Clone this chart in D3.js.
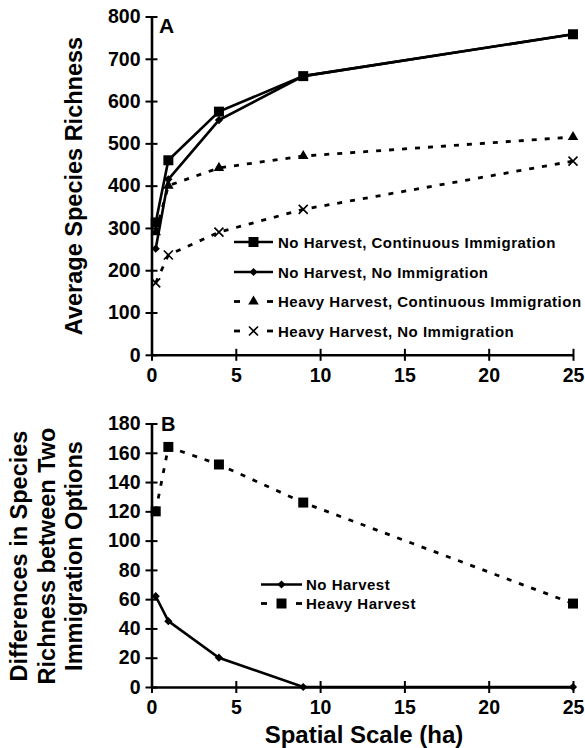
<!DOCTYPE html>
<html>
<head>
<meta charset="utf-8">
<script src="https://cdn.jsdelivr.net/npm/d3@7"></script>
<style>
  body { margin: 0; background: #fff; }
  text { font-family: "Liberation Sans", Arial, sans-serif; font-weight: bold; fill: #000; }
</style>
</head>
<body>
<div id="chart"></div>
<script>
// spatial scale (ha)
const scales = [0.25, 1, 4, 9, 25];

// panel A: average species richness
const nhCont = [313, 460, 575, 659, 758];
const nhNone = [251, 415, 555, 659, 758];
const hhCont = [290, 400, 442, 470, 515];
const hhNone = [170, 236, 290, 344, 458];

// panel B: difference between the two immigration options
const diffNoHarvest = [62, 45, 20, 0, 0];
const diffHeavy = [120, 164, 152, 126, 57];

const xTicks = [0, 5, 10, 15, 20, 25];
const yTicksA = d3.range(0, 801, 100);
const yTicksB = d3.range(0, 181, 20);

const width = 585, height = 748;
const svg = d3.select('#chart').append('svg')
    .attr('width', width)
    .attr('height', height);

const x = d3.scaleLinear().domain([0, 25]).range([151.5, 573]);
const yA = d3.scaleLinear().domain([0, 800]).range([354.8, 16.5]);
const yB = d3.scaleLinear().domain([0, 180]).range([687, 423.5]);

const dash = '5,8';

const shapes = {
    square: d3.symbol(d3.symbolSquare, 100)(),
    diamond: d3.symbol(d3.symbolSquare, 34)(),
    triangle: d3.symbol(d3.symbolTriangle, 48)(),
    cross: 'M-4.5,-4.5L4.5,4.5M-4.5,4.5L4.5,-4.5'
};

function drawMarker(g, shape, cx, cy) {
    const p = g.append('path')
        .attr('d', shapes[shape])
        .attr('transform', `translate(${cx},${cy})` + (shape === 'diamond' ? ' rotate(45)' : ''));
    if (shape === 'cross') p.attr('fill', 'none').attr('stroke', '#000').attr('stroke-width', 1.6);
    else p.attr('fill', '#000');
}

function drawAxes(y, yTicks) {
    const gx = svg.append('g')
        .attr('transform', `translate(0,${y(0)})`)
        .call(d3.axisBottom(x).tickValues(xTicks).tickSize(0).tickSizeOuter(0).tickPadding(13));
    gx.selectAll('.tick line').attr('y1', -6).attr('y2', 6);

    const gy = svg.append('g')
        .attr('transform', `translate(${x(0)},0)`)
        .call(d3.axisLeft(y).tickValues(yTicks).tickSize(0).tickSizeOuter(0).tickPadding(11));
    gy.selectAll('.tick line').attr('x1', -6).attr('x2', 6);

    [gx, gy].forEach(g => {
        g.select('.domain').attr('stroke', '#000').attr('stroke-width', 2.6);
        g.selectAll('.tick line').attr('stroke', '#000').attr('stroke-width', 2);
        g.selectAll('text').attr('font-size', 19.5).attr('fill', '#000')
            .attr('font-family', '"Liberation Sans", Arial, sans-serif').attr('font-weight', 'bold');
    });
    gx.selectAll('text').attr('dy', '0.71em');
}

function drawSeries(y, values, shape, dashed) {
    const g = svg.append('g');
    const line = d3.line().x((d, i) => x(scales[i])).y(d => y(d));
    g.append('path')
        .datum(values)
        .attr('d', line)
        .attr('fill', 'none')
        .attr('stroke', '#000')
        .attr('stroke-width', dashed ? 2.8 : 2.6)
        .attr('stroke-dasharray', dashed ? dash : null);
    values.forEach((v, i) => drawMarker(g, shape, x(scales[i]), y(v)));
}

function drawLegend(items, x0, x1, tx, rows) {
    items.forEach((it, i) => {
        const cy = rows[i];
        const g = svg.append('g');
        const mx = (x0 + x1) / 2;
        if (it.dashed) {
            g.append('line').attr('x1', x0).attr('x2', x0 + 6).attr('y1', cy).attr('y2', cy)
                .attr('stroke', '#000').attr('stroke-width', 2.8);
            g.append('line').attr('x1', x1 - 6).attr('x2', x1).attr('y1', cy).attr('y2', cy)
                .attr('stroke', '#000').attr('stroke-width', 2.8);
        } else {
            g.append('line').attr('x1', x0).attr('x2', x1).attr('y1', cy).attr('y2', cy)
                .attr('stroke', '#000').attr('stroke-width', 2.6);
        }
        drawMarker(g, it.shape, mx, cy);
        g.append('text').attr('x', tx).attr('y', cy + 5.5)
            .attr('font-size', 15).attr('letter-spacing', 0.5).text(it.label);
    });
}

// ---- panel A ----
drawAxes(yA, yTicksA);
drawSeries(yA, hhNone, 'cross', true);
drawSeries(yA, hhCont, 'triangle', true);
drawSeries(yA, nhNone, 'diamond', false);
drawSeries(yA, nhCont, 'square', false);

svg.append('text').attr('x', 159).attr('y', 33).attr('font-size', 21).text('A');

svg.append('text')
    .attr('transform', `translate(82,${186}) rotate(-90)`)
    .attr('text-anchor', 'middle')
    .attr('font-size', 23.5)
    .text('Average Species Richness');

drawLegend([
    { label: 'No Harvest, Continuous Immigration', shape: 'square', dashed: false },
    { label: 'No Harvest, No Immigration', shape: 'diamond', dashed: false },
    { label: 'Heavy Harvest, Continuous Immigration', shape: 'triangle', dashed: true },
    { label: 'Heavy Harvest, No Immigration', shape: 'cross', dashed: true }
], 234, 273, 278, [242, 272, 301.5, 331]);

// ---- panel B ----
drawAxes(yB, yTicksB);
drawSeries(yB, diffHeavy, 'square', true);
drawSeries(yB, diffNoHarvest, 'diamond', false);

svg.append('text').attr('x', 161).attr('y', 431).attr('font-size', 20).text('B');

const titleB = ['Differences in Species', 'Richness between Two', 'Immigration Options'];
titleB.forEach((t, i) => {
    svg.append('text')
        .attr('transform', `translate(${27 + i * 27.5},556) rotate(-90)`)
        .attr('text-anchor', 'middle')
        .attr('font-size', 23.5)
        .text(t);
});

drawLegend([
    { label: 'No Harvest', shape: 'diamond', dashed: false },
    { label: 'Heavy Harvest', shape: 'square', dashed: true }
], 261, 302, 306, [584.5, 603.5]);

svg.append('text')
    .attr('x', 364)
    .attr('y', 743)
    .attr('text-anchor', 'middle')
    .attr('font-size', 24)
    .text('Spatial Scale (ha)');
</script>
</body>
</html>
